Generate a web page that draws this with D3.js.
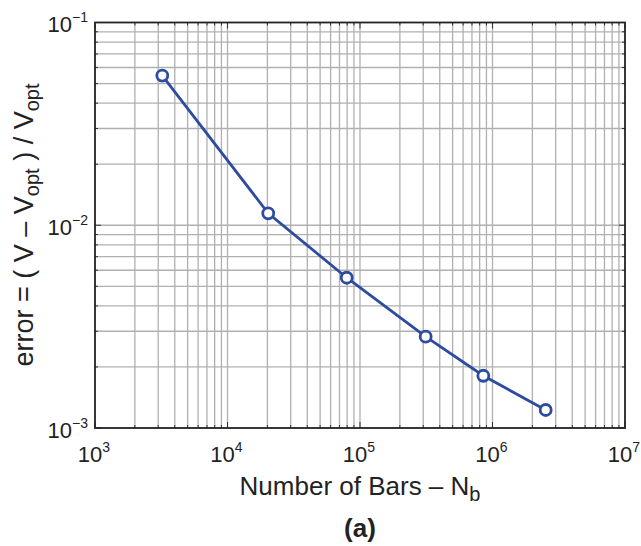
<!DOCTYPE html>
<html>
<head>
<meta charset="utf-8">
<script src="https://cdn.jsdelivr.net/npm/d3@7"></script>
<style>
  body { margin: 0; background: #fff; }
  text { font-family: "Liberation Sans", Arial, sans-serif; fill: #222; }
</style>
</head>
<body>
<script>
// Data
var bars = [3220, 20300, 79400, 313000, 853000, 2520000];
var errors = [0.0547, 0.01145, 0.00551, 0.00282, 0.00181, 0.001227];
var xTicks = [1e3, 1e4, 1e5, 1e6, 1e7];
var yTicks = [1e-3, 1e-2, 1e-1];

var margin = {top: 22.5, right: 16, bottom: 118, left: 95},
    width = 641 - margin.left - margin.right,
    height = 546 - margin.top - margin.bottom;

var svg = d3.select("body")
  .append("svg")
    .attr("width", 641)
    .attr("height", 546)
  .append("g")
    .attr("transform", "translate(" + margin.left + "," + margin.top + ")");

var x = d3.scaleLog().domain([1e3, 1e7]).range([0, width]);
var y = d3.scaleLog().domain([1e-3, 1e-1]).range([height, 0]);

// minor + major values
function allTicks(lo, hi) {
  var out = [];
  for (var e = lo; e < hi; e++) {
    for (var m = 1; m <= 9; m++) out.push(m * Math.pow(10, e));
  }
  out.push(Math.pow(10, hi));
  return out;
}
var xAll = allTicks(3, 7);
var yAll = allTicks(-3, -1);

// Grid
svg.append("g").selectAll("line")
  .data(xAll.slice(1, -1))
  .enter().append("line")
    .attr("x1", function(d) { return x(d); })
    .attr("x2", function(d) { return x(d); })
    .attr("y1", 0).attr("y2", height)
    .attr("stroke", "#b0b0b0").attr("stroke-width", 1.3);
svg.append("g").selectAll("line")
  .data(yAll.slice(1, -1))
  .enter().append("line")
    .attr("y1", function(d) { return y(d); })
    .attr("y2", function(d) { return y(d); })
    .attr("x1", 0).attr("x2", width)
    .attr("stroke", "#b0b0b0").attr("stroke-width", 1.3);

// Inward ticks on all four sides
function isMajor(d) { return Math.abs(Math.log10(d) - Math.round(Math.log10(d))) < 1e-6; }
var tg = svg.append("g").attr("stroke", "#333").attr("stroke-width", 1);
xAll.forEach(function(d) {
  var len = isMajor(d) ? 6 : 3;
  tg.append("line").attr("x1", x(d)).attr("x2", x(d)).attr("y1", height).attr("y2", height - len);
  tg.append("line").attr("x1", x(d)).attr("x2", x(d)).attr("y1", 0).attr("y2", len);
});
yAll.forEach(function(d) {
  var len = isMajor(d) ? 6 : 3;
  tg.append("line").attr("y1", y(d)).attr("y2", y(d)).attr("x1", 0).attr("x2", len);
  tg.append("line").attr("y1", y(d)).attr("y2", y(d)).attr("x1", width).attr("x2", width - len);
});

// Box
svg.append("rect")
  .attr("width", width).attr("height", height)
  .attr("fill", "none").attr("stroke", "#222").attr("stroke-width", 1.8);

// X tick labels
xTicks.forEach(function(d) {
  var t = svg.append("text")
    .attr("x", x(d) - 1)
    .attr("y", height + 34)
    .attr("text-anchor", "middle")
    .style("font-size", "22px");
  t.append("tspan").text("10");
  t.append("tspan").attr("dy", -10).style("font-size", "14px").text(Math.round(Math.log10(d)));
});

// Y tick labels
yTicks.forEach(function(d) {
  var t = svg.append("text")
    .attr("x", -7)
    .attr("y", y(d) + 9.5)
    .attr("text-anchor", "end")
    .style("font-size", "22px");
  t.append("tspan").text("10");
  t.append("tspan").attr("dy", -10).style("font-size", "14px").text("\u2212" + Math.abs(Math.round(Math.log10(d))));
});

// X axis label
var xl = svg.append("text")
  .attr("x", width / 2)
  .attr("y", height + 67)
  .attr("text-anchor", "middle")
  .style("font-size", "26px");
xl.append("tspan").text("Number of Bars \u2013 N");
xl.append("tspan").attr("dy", 6).style("font-size", "20px").text("b");

// Y axis label
var yl = svg.append("text")
  .attr("transform", "rotate(-90)")
  .attr("x", -(225 - margin.top))
  .attr("y", -62)
  .attr("text-anchor", "middle")
  .style("font-size", "27px");
yl.append("tspan").text("error = ( V \u2013 V");
yl.append("tspan").attr("dy", 6).style("font-size", "20px").text("opt");
yl.append("tspan").attr("dy", -6).text(" ) / V");
yl.append("tspan").attr("dy", 6).style("font-size", "20px").text("opt");

// Panel label
svg.append("text")
  .attr("x", width / 2)
  .attr("y", height + 108.5)
  .attr("text-anchor", "middle")
  .style("font-size", "26px")
  .style("font-weight", "bold")
  .text("(a)");

// Line and markers
var pts = bars.map(function(b, i) { return {n: b, e: errors[i]}; });
svg.append("path")
  .datum(pts)
  .attr("fill", "none")
  .attr("stroke", "#2e4c9f")
  .attr("stroke-width", 2.8)
  .attr("d", d3.line()
    .x(function(d) { return x(d.n); })
    .y(function(d) { return y(d.e); }));

svg.append("g")
  .selectAll("circle")
  .data(pts)
  .enter()
  .append("circle")
    .attr("cx", function(d) { return x(d.n); })
    .attr("cy", function(d) { return y(d.e); })
    .attr("r", 5.5)
    .style("fill", "white")
    .attr("stroke", "#2e4c9f")
    .attr("stroke-width", 2.8);
</script>
</body>
</html>
